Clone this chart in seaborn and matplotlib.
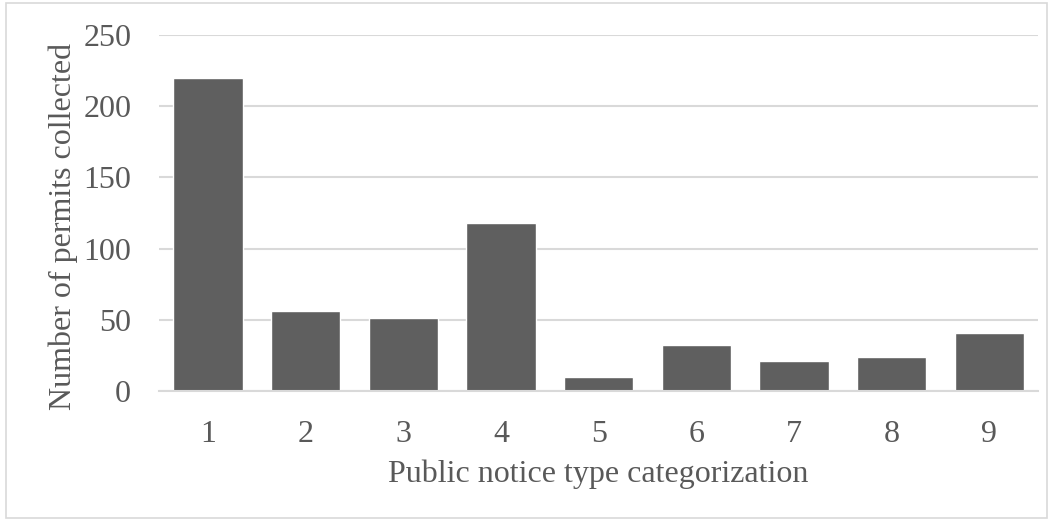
import matplotlib
matplotlib.use("Agg")
import matplotlib.pyplot as plt
import seaborn as sns
import pandas as pd
from matplotlib.patches import Rectangle

# Permit counts per public notice type
categories = ["1", "2", "3", "4", "5", "6", "7", "8", "9"]
permits = [220, 56, 51, 118, 10, 32, 21, 24, 41]
y_ticks = [0, 50, 100, 150, 200, 250]

df = pd.DataFrame({"category": categories, "permits": permits})

sns.set_theme(style="white")
plt.rcParams["font.family"] = ["Liberation Serif", "DejaVu Serif"]

text_color = "#595959"
grid_color = "#d9d9d9"
bar_color = "#5f5f5f"
fs = 23

fig = plt.figure(figsize=(10.53, 5.2), dpi=100)
ax = fig.add_axes([0.151, 0.248, 0.835, 0.685])

sns.barplot(data=df, x="category", y="permits", color=bar_color,
            width=0.71, saturation=1, ax=ax, zorder=3)

ax.set_ylim(0, 250)
ax.set_yticks(y_ticks)
ax.set_xlim(-0.5, len(categories) - 0.5)
ax.yaxis.grid(True, color=grid_color, linewidth=1.5, zorder=0)
ax.xaxis.grid(False)
for side in ["top", "right", "left"]:
    ax.spines[side].set_visible(False)
ax.spines["bottom"].set_color(grid_color)
ax.spines["bottom"].set_linewidth(1.5)
ax.spines["bottom"].set_zorder(4)

ax.tick_params(axis="both", length=0, labelsize=fs, colors=text_color)
ax.tick_params(axis="y", pad=20)
ax.tick_params(axis="x", pad=20.5)
ax.set_xlabel("Public notice type categorization", fontsize=fs,
              color=text_color, labelpad=8)
ax.set_ylabel("Number of permits collected", fontsize=fs,
              color=text_color, labelpad=4, y=0.463)

# Light frame around the whole chart
fig.patches.append(Rectangle((0.006, 0.004), 0.988, 0.99, transform=fig.transFigure,
                             fill=False, edgecolor=grid_color, linewidth=1.2))

fig.savefig("out.png", dpi=100, facecolor="white")
